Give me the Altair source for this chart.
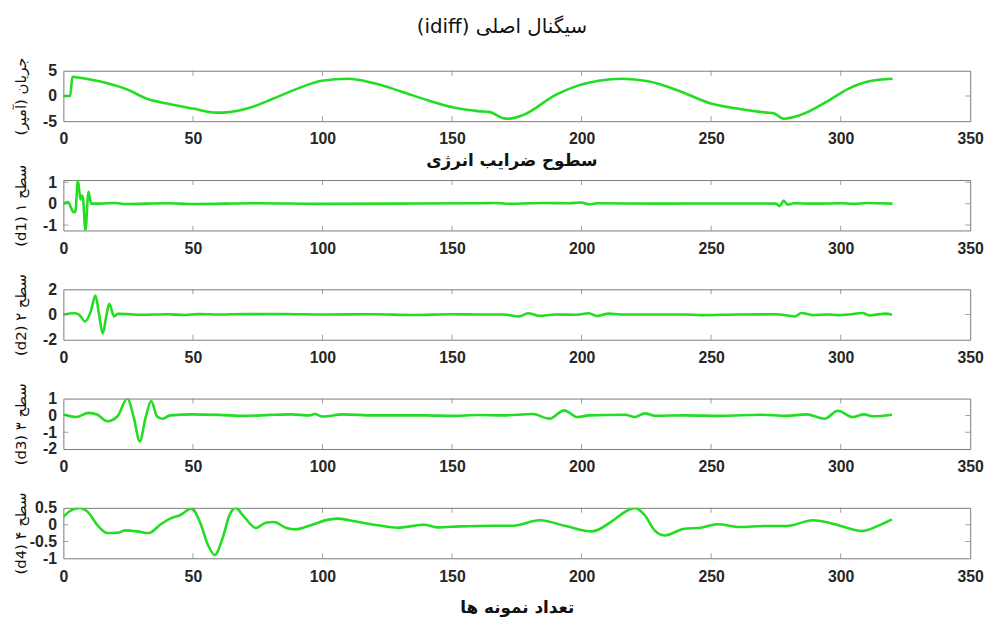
import altair as alt
import pandas as pd

# ---------------- data ----------------
idiff_x = [0, 2.6, 3.5, 5, 17, 25, 32, 40, 50, 59, 64, 71.6, 80.7, 89.6, 99.8, 109.8, 120, 130.3,
           140.3, 150.7, 160, 164.7, 169.7, 172, 177.4, 190, 197.7, 206.6, 215.5, 225.7, 237.2,
           249.9, 260, 271.5, 274, 278, 284.3, 295.7, 303.3, 311, 320]
idiff_y = [0, 0.0, 3.8, 3.7, 2.5, 1.2, -0.5, -1.5, -2.5, -3.3, -3.2, -2.4, -0.6, 1.3, 3.0, 3.4, 2.5, 0.9,
           -0.8, -2.3, -3.0, -3.2, -4.4, -4.5, -3.8, 0.2, 1.9, 3.0, 3.4, 2.9, 1.1,
           -1.5, -2.5, -3.3, -3.4, -4.5, -3.8, -0.8, 1.5, 2.9, 3.4]

d1_x = [0, 1.8, 3, 3.7, 4.6, 5.6, 6.6, 7.1, 7.6, 8.5, 9.7, 10.7, 14, 20, 24, 40, 50, 75, 100, 130,
        160, 167, 173, 180, 185, 195, 200, 203, 206, 230, 260, 275, 276.5, 278, 279.5, 282, 290,
        300, 305, 310, 320]
d1_y = [0, 0.08, -0.2, -0.38, -0.4, 1.08, 0.2, 0.38, 0.23, -1.25, 0.55, 0.0, 0.0, 0.03, -0.02, 0.02,
        -0.02, 0.02, -0.01, 0.0, 0.02, 0.03, -0.01, 0.02, 0.03, 0.02, 0.05, -0.03, 0.02, 0.0, 0.01,
        0.0, -0.12, 0.15, -0.05, 0.02, 0.0, 0.02, -0.01, 0.03, 0.0]

d2_x = [0, 4.3, 6, 8.4, 10.5, 12.4, 13.7, 15.2, 16.5, 17.7, 19.6, 20.9, 25, 30, 40, 47, 52, 60, 70,
        85, 100, 120, 135, 150, 160, 170, 176, 179.3, 183.7, 190, 198, 202.8, 206, 210.5, 215, 240,
        246, 260, 275, 282.3, 284.9, 289.3, 295, 299, 303.3, 308.4, 311, 315, 317.3, 319.8]
d2_y = [0, 0.1, 0.0, -0.55, 0.2, 1.5, 0.1, -1.5, -0.2, 0.85, -0.15, 0.05, 0.03, -0.02, 0.02, -0.04,
        0.03, 0.0, 0.03, 0.04, 0.0, 0.02, -0.04, 0.02, 0.0, 0.0, -0.15, 0.1, -0.1, 0.0, -0.02, 0.1,
        -0.12, 0.07, 0.0, 0.0, -0.05, 0.0, 0.02, -0.15, 0.12, -0.05, 0.0, -0.05, 0.0, 0.12, -0.07,
        0.03, 0.07, -0.02]

d3_x = [0, 5, 9.7, 13, 17, 20.9, 24.7, 27.2, 29.5, 31.7, 33.9, 36.1, 38.1, 41.2, 50, 60, 70, 80, 88,
        95, 97, 100, 108, 120, 140, 150, 160, 170, 181.2, 187.6, 193.3, 198.4, 202.8, 216.8, 220.6,
        224.4, 228.2, 240, 253.7, 269, 279.2, 286.8, 293.8, 298.9, 304.6, 309, 312.2, 319.8]
d3_y = [0.05, -0.1, 0.15, 0.05, -0.35, -0.05, 1.0, -0.15, -1.55, -0.15, 0.85, -0.05, -0.2, 0.0, 0.06,
        0.03, -0.03, 0.03, 0.06, 0.0, 0.08, -0.07, 0.06, 0.0, 0.0, -0.03, 0.02, 0.0, 0.08, -0.2, 0.3,
        -0.1, 0.0, 0.04, -0.1, 0.12, -0.02, 0.0, -0.03, 0.04, -0.03, 0.06, -0.2, 0.28, -0.1, 0.06,
        -0.05, 0.04]

d4_x = [0, 2.4, 6.2, 9.4, 13.2, 17, 20.9, 24, 28.5, 33, 37.4, 41.2, 45, 49.5, 52.7, 55.9, 58.4, 61.6,
        64.1, 66.4, 69.8, 74.3, 78.1, 81.3, 85.8, 89.6, 96, 102.3, 106.1, 112.5, 121.4, 129, 136.6,
        139.2, 144.3, 153.2, 165.9, 173.6, 183.7, 193.9, 204.1, 211.7, 216.8, 220.6, 224.4, 228.2,
        232, 239.7, 246.1, 252.4, 261.3, 270.2, 279.2, 289.3, 297, 308.4, 314.8, 319.8]
d4_y = [0.23, 0.4, 0.5, 0.38, -0.02, -0.25, -0.24, -0.17, -0.2, -0.25, 0.0, 0.18, 0.28, 0.48, 0.08,
        -0.62, -0.9, -0.37, 0.28, 0.5, 0.23, -0.1, 0.06, 0.08, -0.09, -0.14, 0.0, 0.15, 0.18, 0.1,
        -0.02, -0.09, -0.02, 0.0, -0.08, -0.05, -0.03, -0.03, 0.13, -0.04, -0.2, 0.1, 0.38, 0.5, 0.28,
        -0.17, -0.32, -0.12, -0.09, 0.01, -0.07, -0.04, -0.04, 0.13, 0.03, -0.19, -0.02, 0.16]

x_ticks = [0, 50, 100, 150, 200, 250, 300, 350]

main_title = "سیگنال اصلی (idiff)"
coef_title = "سطوح ضرایب انرژی"
x_title = "تعداد نمونه ها"
y_titles = ["جریان (آمپر)", "سطح ۱ (d1)", "سطح ۲ (d2)", "سطح ۳ (d3)", "سطح ۴ (d4)"]


def rtl(s):
    # right-to-left embedding so the mixed Persian / Latin text is ordered as in the original
    return "\u202b" + s + "\u202c"


# ---------------- styling ----------------
W, H = 917, 51
GREEN = "#22dd22"
FRAME = "#7a7a7a"
TXT = "#262626"
XDOM = [0, 350]
LBL = dict(labelFont="Liberation Sans", labelFontSize=16, labelFontWeight="bold", labelColor=TXT,
           ticks=False, domain=False, grid=False, labelFlush=False, labelOverlap=False,
           labelExpr="datum.value + ''")


def panel(xs, ys, ydom, yticks, ytitle, title=None, xtitle=None):
    df = pd.DataFrame({"x": xs, "y": ys})
    xsc = alt.Scale(domain=XDOM, nice=False, zero=False)
    ysc = alt.Scale(domain=ydom, nice=False, zero=False)
    if xtitle:
        xaxis = alt.Axis(values=x_ticks, labelPadding=10, title=rtl(xtitle),
                         titleFont="DejaVu Sans", titleFontSize=17, titleFontWeight="bold",
                         titleColor="#111111", titleY=50, titleBaseline="middle", **LBL)
    else:
        xaxis = alt.Axis(values=x_ticks, labelPadding=10, title=None, **LBL)
    yaxis = alt.Axis(values=yticks, labelPadding=7, title=rtl(ytitle), titleFont="DejaVu Sans",
                     titleFontSize=15, titleFontWeight="normal", titleColor="#111111",
                     titleX=-43, titleY=H / 2, titleAngle=270, titleAlign="center",
                     titleBaseline="middle", **LBL)
    X = alt.X("x:Q", scale=xsc, axis=xaxis)
    Y = alt.Y("y:Q", scale=ysc, axis=yaxis)
    line = alt.Chart(df).mark_line(color=GREEN, strokeWidth=2.6, interpolate="monotone",
                                   clip=True).encode(x=X, y=Y)
    inner_x = [v for v in x_ticks if XDOM[0] < v < XDOM[1]]
    tx = pd.DataFrame({"x": inner_x * 2, "y": [ydom[0]] * len(inner_x) + [ydom[1]] * len(inner_x)})
    xt = alt.Chart(tx).mark_tick(orient="vertical", size=10, thickness=1, color=FRAME,
                                 clip=True).encode(x=X, y=Y)
    inner_y = [v for v in yticks if ydom[0] < v < ydom[1]]
    ty = pd.DataFrame({"x": [XDOM[0]] * len(inner_y) + [XDOM[1]] * len(inner_y), "y": inner_y * 2})
    yt = alt.Chart(ty).mark_tick(orient="horizontal", size=10, thickness=1, color=FRAME,
                                 clip=True).encode(x=X, y=Y)
    props = dict(width=W, height=H)
    if title is not None:
        props["title"] = title
    return alt.layer(line, xt, yt).properties(**props)


t1 = alt.TitleParams(rtl(main_title), font="DejaVu Sans", fontSize=20, fontWeight="normal",
                     color="#111111", anchor="middle", frame="group", offset=20, dx=-15)
t2 = alt.TitleParams(rtl(coef_title), font="DejaVu Sans", fontSize=17, fontWeight="bold",
                     color="#111111", anchor="middle", frame="group", offset=-6, dx=-5)

p1 = panel(idiff_x, idiff_y, [-5, 5], [-5, 0, 5], y_titles[0], title=t1)
p2 = panel(d1_x, d1_y, [-1.25, 1.1], [-1, 0, 1], y_titles[1], title=t2)
p3 = panel(d2_x, d2_y, [-2, 2], [-2, 0, 2], y_titles[2])
p4 = panel(d3_x, d3_y, [-2, 1], [-2, -1, 0, 1], y_titles[3])
p5 = panel(d4_x, d4_y, [-1, 0.5], [-1, -0.5, 0, 0.5], y_titles[4], xtitle=x_title)

chart = alt.vconcat(p1, p2, p3, p4, p5, spacing=59.5, bounds="flush").configure_view(
    stroke=FRAME, strokeWidth=1
).properties(padding={"left": 5, "right": 5, "top": 5, "bottom": 5}, background="white")

chart.save("out.html", embed_options={"renderer": "svg", "actions": False})
